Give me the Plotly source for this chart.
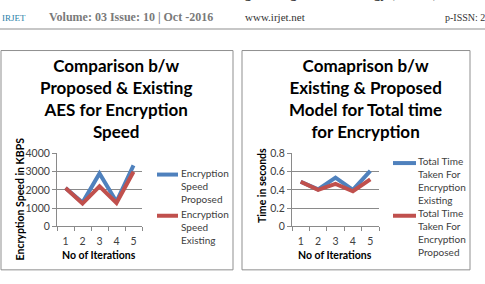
import plotly.graph_objects as go

# ---- data ----
iterations = ["1", "2", "3", "4", "5"]
speed_proposed = [2100, 1300, 2900, 1350, 3350]
speed_existing = [2100, 1250, 2200, 1280, 3000]
speed_ticks = [0, 1000, 2000, 3000, 4000]

time_existing = [0.49, 0.405, 0.535, 0.40, 0.61]
time_proposed = [0.49, 0.40, 0.465, 0.385, 0.515]
time_ticks = [0, 0.2, 0.4, 0.6, 0.8]

W, H = 485, 284
BLUE = "#4F81BD"
RED = "#C0504D"
GRID = "#8a8a8a"
TXT = "#404040"
SANS = "Lato"
SERIF = "Liberation Serif"


def fx(x):
    return x / W


def fy(y):
    return 1 - y / H


fig = go.Figure()
fig.add_trace(go.Scatter(x=iterations, y=speed_proposed, mode="lines",
                         line=dict(color=BLUE, width=4), xaxis="x", yaxis="y",
                         name="Encryption Speed Proposed", showlegend=False))
fig.add_trace(go.Scatter(x=iterations, y=speed_existing, mode="lines",
                         line=dict(color=RED, width=4), xaxis="x", yaxis="y",
                         name="Encryption Speed Existing", showlegend=False))
fig.add_trace(go.Scatter(x=iterations, y=time_existing, mode="lines",
                         line=dict(color=BLUE, width=4), xaxis="x2", yaxis="y2",
                         name="Total Time Taken For Encryption Existing", showlegend=False))
fig.add_trace(go.Scatter(x=iterations, y=time_proposed, mode="lines",
                         line=dict(color=RED, width=4), xaxis="x2", yaxis="y2",
                         name="Total Time Taken For Encryption Proposed", showlegend=False))

xcommon = dict(type="category", tickson="boundaries", ticks="outside", ticklen=4,
               tickcolor=GRID, showline=True, linecolor=GRID, linewidth=1,
               showgrid=False, zeroline=False, range=[-0.5, 4.5], ticklabelstandoff=5,
               tickfont=dict(family=SANS, size=10.5, color=TXT), fixedrange=True)
ycommon = dict(showgrid=True, gridcolor=GRID, gridwidth=1, showline=True,
               linecolor=GRID, linewidth=1, ticks="outside", ticklen=4,
               tickcolor=GRID, zeroline=False,
               tickfont=dict(family=SANS, size=10.5, color=TXT), fixedrange=True)

ydom = [fy(230), fy(154)]
fig.update_layout(
    width=W, height=H, margin=dict(l=0, r=0, t=0, b=0),
    paper_bgcolor="white", plot_bgcolor="white",
    xaxis=dict(domain=[fx(57), fx(142)], anchor="y", **xcommon),
    yaxis=dict(domain=ydom, anchor="x", range=[0, 4000], tickvals=speed_ticks, **ycommon),
    xaxis2=dict(domain=[fx(292), fx(379)], anchor="y2", **xcommon),
    yaxis2=dict(domain=ydom, anchor="x2", range=[0, 0.8], tickvals=time_ticks,
                ticktext=["0", "0.2", "0.4", "0.6", "0.8"], **ycommon),
)

shapes = []
# header rule
shapes.append(dict(type="line", xref="paper", yref="paper", x0=0, x1=1, y0=fy(24), y1=fy(24),
                   line=dict(color="#b4b4b4", width=1.5)))
# chart frames
for x0, x1 in [(1, 233), (242, 470)]:
    shapes.append(dict(type="rect", xref="paper", yref="paper", x0=fx(x0), x1=fx(x1),
                       y0=fy(275.5), y1=fy(46.5), line=dict(color="#8f8f8f", width=1)))
# legend swatches
for (x0, x1, y, c) in [(157, 178, 176, BLUE), (157, 178, 219, RED),
                       (393, 416, 164, BLUE), (393, 416, 219, RED)]:
    shapes.append(dict(type="line", xref="paper", yref="paper", x0=fx(x0), x1=fx(x1),
                       y0=fy(y), y1=fy(y), line=dict(color=c, width=4)))
fig.update_layout(shapes=shapes)

ann = []


def text(x, y, s, size, color="#000", family=SANS, xanchor="center", yanchor="middle",
         align="center", angle=0):
    ann.append(dict(xref="paper", yref="paper", x=fx(x), y=fy(y), text=s, showarrow=False,
                    font=dict(family=family, size=size, color=color), xanchor=xanchor,
                    yanchor=yanchor, align=align, textangle=angle))


# header (top journal line is only partly visible, as in the reference)
text(35, -3, "<b>International Research Journal of Engineering and Technology (IRJET)</b>", 13,
     "#222", SERIF, xanchor="left", yanchor="bottom")
text(14, 13, "IRJET", 9, "#2a7fa8", SERIF)
text(47, 12, "<b>Volume: 03 Issue: 10 | Oct -2016</b>", 12, "#7a7a7a", SERIF, xanchor="left")
text(243, 12, "www.irjet.net", 11, "#333", SERIF, xanchor="left")
text(443, 12, "p-ISSN: 2", 10, "#333", SERIF, xanchor="left")

# titles
text(116, 97, "<b>Comparison b/w<br>Proposed &amp; Existing<br>AES for Encryption<br>Speed</b>", 17)
text(365, 97, "<b>Comaprison b/w<br>Existing &amp; Proposed<br>Model for Total time<br>for Encryption</b>", 17)

# axis titles
text(20, 202, "<b>Encryption Speed in KBPS</b>", 10.5, angle=-90)
text(99, 260, "<b>No of Iterations</b>", 10.5)
text(262, 188, "<b>Time in seconds</b>", 10.5, angle=-90)
text(335, 260, "<b>No of Iterations</b>", 10.5)

# legends
text(179, 188, "Encryption<br>Speed<br>Proposed", 10, TXT, xanchor="left", align="left")
text(179, 231, "Encryption<br>Speed<br>Existing", 10, TXT, xanchor="left", align="left")
text(416, 182, "Total Time<br>Taken For<br>Encryption<br>Existing", 10, TXT, xanchor="left", align="left")
text(416, 237, "Total Time<br>Taken For<br>Encryption<br>Proposed", 10, TXT, xanchor="left", align="left")

fig.update_layout(annotations=ann)
fig.write_html("out.html")
